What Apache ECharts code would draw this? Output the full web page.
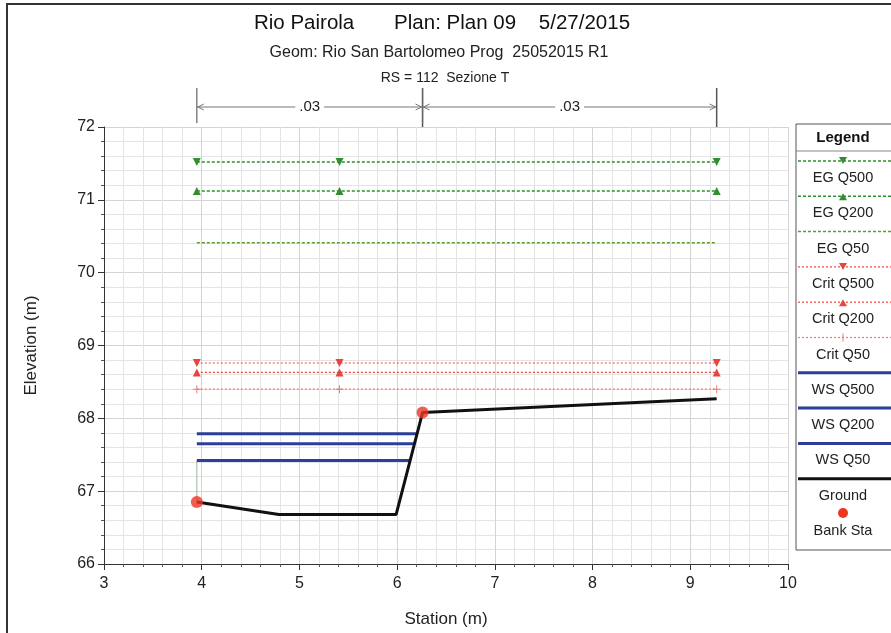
<!DOCTYPE html>
<html>
<head>
<meta charset="utf-8">
<script src="https://cdn.jsdelivr.net/npm/echarts@6/dist/echarts.min.js"></script>
<style>
html,body{margin:0;padding:0;background:#fff;}
#chart{width:891px;height:633px;}
</style>
</head>
<body>
<div id="chart"></div>
<script>
// ---------------- DATA ----------------
const groundStation = [3.95, 4.79, 5.99, 6.26, 9.27];
const groundElev    = [66.85, 66.68, 66.68, 68.08, 68.27];
const bankStations  = [3.95, 6.26];
const markerStations = [3.95, 5.41, 9.27];
const profileNames = ['EG Q500','EG Q200','EG Q50','Crit Q500','Crit Q200','Crit Q50','WS Q500','WS Q200','WS Q50'];
const profileElev  = [71.52, 71.12, 70.41, 68.76, 68.63, 68.40, 67.79, 67.65, 67.42];
const nValues   = ['.03', '.03'];
const nStations = [3.95, 6.26, 9.27];
const xTicks = [3, 4, 5, 6, 7, 8, 9, 10];
const yTicks = [66, 67, 68, 69, 70, 71, 72];

// ---------------- STYLES ----------------
const FONT = '"Liberation Sans", Arial, sans-serif';
const profileStyles = [
  {kind:'eg',   color:'#2f8f2f', width:1.5, dash:[3,2], symbol:'down'},
  {kind:'eg',   color:'#2f8f2f', width:1.5, dash:[3,2], symbol:'up'},
  {kind:'eg',   color:'#5a9e2c', width:1.5, dash:[3,2], symbol:null},
  {kind:'crit', color:'#e8463c', width:1.2, dash:[2,2], symbol:'down'},
  {kind:'crit', color:'#e8463c', width:1.2, dash:[2,2], symbol:'up'},
  {kind:'crit', color:'#ec7a72', width:1.2, dash:[2,2], symbol:'plus'},
  {kind:'ws',   color:'#2b3f98', width:3,   dash:null,  symbol:null},
  {kind:'ws',   color:'#2b3f98', width:3,   dash:null,  symbol:null},
  {kind:'ws',   color:'#2b3f98', width:3,   dash:null,  symbol:null}
];
const groundColor = '#111111';
const bankColor = '#ee3524';
const PLUS_PATH = 'path://M-0.6,-5L0.6,-5L0.6,-0.6L5,-0.6L5,0.6L0.6,0.6L0.6,5L-0.6,5L-0.6,0.6L-5,0.6L-5,-0.6L-0.6,-0.6Z';

const xMin = xTicks[0], xMax = xTicks[xTicks.length-1];
const yMin = yTicks[0], yMax = yTicks[yTicks.length-1];

// water surface meets right bank slope
function wsRightEnd(z){
  let iMin = 0;
  for (let i = 1; i < groundElev.length; i++) if (groundElev[i] < groundElev[iMin]) iMin = i;
  for (let i = iMin; i < groundElev.length - 1; i++) {
    const z0 = groundElev[i], z1 = groundElev[i+1];
    if (z1 > z0 && z >= z0 && z <= z1) {
      return groundStation[i] + (z - z0) / (z1 - z0) * (groundStation[i+1] - groundStation[i]);
    }
  }
  return groundStation[groundStation.length-1];
}

const series = [];
profileNames.forEach((name, i) => {
  const st = profileStyles[i];
  const z = profileElev[i];
  let data;
  if (st.kind === 'ws') {
    data = [[groundStation[0], z], [wsRightEnd(z), z]];
  } else {
    data = markerStations.map(x => [x, z]);
  }
  let symbol = 'none', rot = 0, size = 8;
  if (st.symbol === 'down') { symbol = 'triangle'; rot = 180; size = 8; }
  else if (st.symbol === 'up') { symbol = 'triangle'; size = 8; }
  else if (st.symbol === 'plus') { symbol = PLUS_PATH; size = 8; }
  series.push({
    name, type:'line', data,
    symbol, symbolRotate: rot, symbolSize: size, showSymbol: symbol !== 'none',
    itemStyle:{color: st.color},
    lineStyle:{color: st.color, width: st.width, type: st.dash ? st.dash : 'solid', opacity:1},
    z: st.kind === 'ws' ? 3 : 2,
    silent:true
  });
});
// thin edge line at left bank up to lowest water surface
series.push({
  name:'edge', type:'line', symbol:'none', silent:true,
  data:[[groundStation[0], groundElev[0]], [groundStation[0], profileElev[8]]],
  lineStyle:{color:'#9bb59b', width:1}, z:2
});
series.push({
  name:'Ground', type:'line', symbol:'none', silent:true,
  data: groundStation.map((x, i) => [x, groundElev[i]]),
  lineStyle:{color: groundColor, width:3}, z:4
});
series.push({
  name:'Bank Sta', type:'scatter', silent:true,
  data: bankStations.map(x => [x, groundElev[groundStation.indexOf(x)]]),
  symbolSize: 12, itemStyle:{color: bankColor}, z:5
});
// n-value dimension bar above plot
series.push({
  name:'nvalues', type:'custom', silent:true, clip:false,
  data: nValues.map((v, i) => [nStations[i], nStations[i+1], yMax]),
  encode:{x:[0,1], y:2},
  renderItem: function(params, api){
    const a = api.coord([api.value(0), api.value(2)]);
    const b = api.coord([api.value(1), api.value(2)]);
    const ly = a[1] - 20, top = a[1] - 39;
    const stroke = {stroke:'#777', lineWidth:1, fill:null};
    return {type:'group', children:[
      {type:'line', shape:{x1:a[0], y1:ly, x2:b[0], y2:ly}, style:stroke},
      {type:'line', shape:{x1:a[0], y1:top, x2:a[0], y2:a[1]-4}, style:{stroke:'#666', lineWidth:1.2}},
      {type:'line', shape:{x1:b[0], y1:top, x2:b[0], y2:a[1]}, style:{stroke:'#555', lineWidth:1.5}},
      {type:'polyline', shape:{points:[[a[0]+7, ly-3],[a[0]+1, ly],[a[0]+7, ly+3]]}, style:stroke},
      {type:'polyline', shape:{points:[[b[0]-7, ly-3],[b[0]-1, ly],[b[0]-7, ly+3]]}, style:stroke},
      {type:'text', x:(a[0]+b[0])/2, y:ly, style:{text:nValues[params.dataIndex], align:'center', verticalAlign:'middle',
        font:'15px ' + FONT, fill:'#222', backgroundColor:'#fff', padding:[0,4]}}
    ]};
  },
  z:6
});

// ---------------- LEGEND (drawn box) ----------------
const LG = {x:796, y:124, w:100, h:426, cx:843, first:178, step:35.3, gap:17};
const LFONT = '14.5px ' + FONT;
const legendChildren = [
  {type:'rect', shape:{x:LG.x, y:LG.y, width:LG.w, height:LG.h}, style:{fill:'#fff', stroke:'#555', lineWidth:1}},
  {type:'text', x:LG.cx, y:LG.y+14, style:{text:'Legend', align:'center', verticalAlign:'middle', font:'bold 15px ' + FONT, fill:'#111'}},
  {type:'line', shape:{x1:LG.x, y1:LG.y+27, x2:LG.x+LG.w, y2:LG.y+27}, style:{stroke:'#888', lineWidth:1}}
];
function markerShape(kind, cx, cy, color){
  if (kind === 'down') return {type:'polygon', shape:{points:[[cx-4,cy-4],[cx+4,cy-4],[cx,cy+3]]}, style:{fill:color}};
  if (kind === 'up') return {type:'polygon', shape:{points:[[cx-4,cy+4],[cx+4,cy+4],[cx,cy-3]]}, style:{fill:color}};
  if (kind === 'plus') return {type:'line', shape:{x1:cx, y1:cy-4, x2:cx, y2:cy+4}, style:{stroke:color, lineWidth:1}};
  return null;
}
const legendNames = profileNames.concat(['Ground']);
legendNames.forEach((name, i) => {
  const ty = LG.first + i * LG.step;
  const sy = ty - LG.gap;
  let color, width, dash, sym = null;
  if (i < profileNames.length) {
    const st = profileStyles[i];
    color = st.color; width = st.width; dash = st.dash; sym = st.symbol;
  } else { color = groundColor; width = 3; dash = null; }
  legendChildren.push({type:'line', shape:{x1:LG.x+2, y1:sy, x2:LG.x+LG.w, y2:sy},
    style:{stroke:color, lineWidth:width, lineDash: dash || null}});
  const m = sym ? markerShape(sym, LG.cx, sy, color) : null;
  if (m) legendChildren.push(m);
  legendChildren.push({type:'text', x:LG.cx, y:ty, style:{text:name, align:'center', verticalAlign:'middle', font:LFONT, fill:'#222'}});
});
{
  const ty = LG.first + legendNames.length * LG.step;
  legendChildren.push({type:'circle', shape:{cx:LG.cx, cy:ty-18, r:5}, style:{fill:bankColor}});
  legendChildren.push({type:'text', x:LG.cx, y:ty, style:{text:'Bank Sta', align:'center', verticalAlign:'middle', font:LFONT, fill:'#222'}});
}

const axisCommon = {
  type:'value', interval:1,
  axisLine:{show:true, lineStyle:{color:'#333', width:1}},
  axisTick:{show:true, length:6, lineStyle:{color:'#333'}},
  minorTick:{show:true, splitNumber:5, length:3, lineStyle:{color:'#555'}},
  splitLine:{show:true, lineStyle:{color:'#d4d4d4', width:1}},
  minorSplitLine:{show:true, lineStyle:{color:'#e4e4e4', width:1}},
  axisLabel:{fontFamily:FONT, fontSize:16, color:'#222', margin:9},
  nameLocation:'middle',
  nameTextStyle:{fontFamily:FONT, fontSize:17, color:'#222'}
};

const option = {
  animation:false,
  backgroundColor:'#ffffff',
  title:[
    {text:'Rio Pairola       Plan: Plan 09    5/27/2015', left:437, top:8, textAlign:'center',
     textStyle:{fontFamily:FONT, fontSize:20.5, fontWeight:'normal', color:'#111'}},
    {text:'Geom: Rio San Bartolomeo Prog  25052015 R1', left:434, top:40, textAlign:'center',
     textStyle:{fontFamily:FONT, fontSize:16, fontWeight:'normal', color:'#222'}},
    {text:'RS = 112  Sezione T', left:440, top:66, textAlign:'center',
     textStyle:{fontFamily:FONT, fontSize:14, fontWeight:'normal', color:'#222'}}
  ],
  grid:{left:104, right:103, top:127, bottom:68, containLabel:false},
  xAxis: Object.assign({}, axisCommon, {min:xMin, max:xMax, name:'Station (m)', nameGap:47,
    axisLabel:{fontFamily:FONT, fontSize:16, color:'#222', margin:12}}),
  yAxis: Object.assign({}, axisCommon, {min:yMin, max:yMax, name:'Elevation (m)', nameGap:64}),
  series,
  graphic:[
    {type:'rect', shape:{x:7, y:4, width:900, height:650}, style:{fill:null, stroke:'#333', lineWidth:2}, z:100},
    {type:'group', children:legendChildren, z:100}
  ]
};

const chart = echarts.init(document.getElementById('chart'), null, {renderer:'canvas'});
chart.setOption(option);
</script>
</body>
</html>
